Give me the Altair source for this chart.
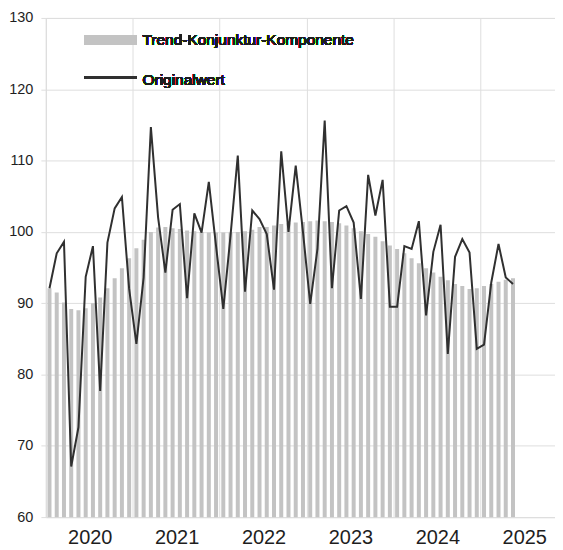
import altair as alt
import pandas as pd

trend = [92.1, 91.5, 90.1, 89.2, 89.0, 89.3, 90.0, 90.8, 92.1, 93.5, 94.9, 96.3, 97.7, 98.9, 100.0, 100.6, 100.7,
         100.5, 100.4, 100.2, 100.1, 100.0, 99.9, 99.9, 99.9, 99.9, 100.0, 100.1, 100.3, 100.7, 100.7, 100.9, 101.1,
         101.2, 101.3, 101.4, 101.5, 101.6, 101.5, 101.4, 101.2, 100.9, 100.5, 100.1, 99.7, 99.3, 98.7, 98.1, 97.6, 97.0,
         96.3, 95.6, 94.9, 94.3, 93.7, 93.2, 92.7, 92.4, 92.0, 92.1, 92.4, 92.7, 93.0, 93.3, 93.5]
original = [92.1, 97.0, 98.6, 67.1, 72.6, 93.7, 98.0, 77.7, 98.5, 103.3, 104.9, 92.0, 84.3, 93.6, 114.7, 102.0, 94.3,
            103.1, 103.9, 90.7, 102.6, 99.9, 107.0, 98.0, 89.2, 99.5, 110.7, 91.6, 103.0, 101.8, 99.7, 91.9, 111.3,
            100.0, 109.3, 100.0, 89.9, 97.6, 115.6, 92.1, 103.0, 103.6, 101.3, 90.6, 108.0, 102.3, 107.3, 89.5, 89.5, 98.0,
            97.6, 101.5, 88.3, 97.2, 101.0, 82.9, 96.5, 99.0, 97.1, 83.6, 84.2, 92.9, 98.3, 93.6, 92.7]
years = [2020, 2021, 2022, 2023, 2024, 2025]
legend_labels = ["Trend-Konjunktur-Komponente", "Originalwert"]

FONT = "Liberation Sans, Arial, sans-serif"
GRID = "#dedede"
TXT = "#1e1e1e"

df = pd.DataFrame({
    "m": [i + 0.5 for i in range(len(trend))],
    "trend": trend,
    "original": original,
})

W = 511
H = 501
xscale = alt.Scale(domain=[0, 70.3], nice=False, zero=False, padding=0)
yscale = alt.Scale(domain=[60, 130], nice=False, zero=False, padding=0)

xaxis = alt.Axis(values=[12 * k for k in range(len(years))],
                 labelExpr="2020 + datum.value / 12",
                 labelOffset=44, labelFlush=False, labelFontSize=20, labelFont=FONT, labelColor=TXT,
                 labelPadding=10, ticks=False, grid=True, gridColor=GRID,
                 domainColor=GRID, title=None, format="d")
yaxis = alt.Axis(values=[60, 70, 80, 90, 100, 110, 120, 130], labelFontSize=14.5, labelFont=FONT,
                 labelColor=TXT, labelPadding=8, tickSize=5, tickColor=GRID, labelFlush=False,
                 grid=True, gridColor=GRID, domainColor=GRID, title=None)

bars = alt.Chart(df).mark_bar(size=4, color="#c3c3c3").encode(
    x=alt.X("m:Q", scale=xscale, axis=xaxis),
    y=alt.Y("trend:Q", scale=yscale, axis=yaxis),
    y2=alt.datum(60),
)
line = alt.Chart(df).mark_line(color="#303030", strokeWidth=2).encode(
    x=alt.X("m:Q", scale=xscale),
    y=alt.Y("original:Q", scale=yscale),
)

leg_rect = alt.Chart(df).mark_rect(color="#c3c3c3").encode(
    x=alt.value(39), x2=alt.value(91), y=alt.value(17), y2=alt.value(27))
leg_rule = alt.Chart(df).mark_rule(color="#303030", strokeWidth=2).encode(
    x=alt.value(39), x2=alt.value(91), y=alt.value(60))
leg_t1 = alt.Chart(df).mark_text(align="left", baseline="middle", font=FONT, fontSize=15.5, color=TXT).encode(
    x=alt.value(97), y=alt.value(22), text=alt.value(legend_labels[0]))
leg_t2 = alt.Chart(df).mark_text(align="left", baseline="middle", font=FONT, fontSize=15.5, color=TXT).encode(
    x=alt.value(97), y=alt.value(62), text=alt.value(legend_labels[1]))

chart = alt.layer(bars, line, leg_rect, leg_rule, leg_t1, leg_t2).properties(
    width=W, height=H,
    padding={"left": 0, "top": 1, "right": 0, "bottom": 0},
).configure_view(stroke=None).configure(background="white")

chart.save("out.html", embed_options={"renderer": "svg", "actions": False})
